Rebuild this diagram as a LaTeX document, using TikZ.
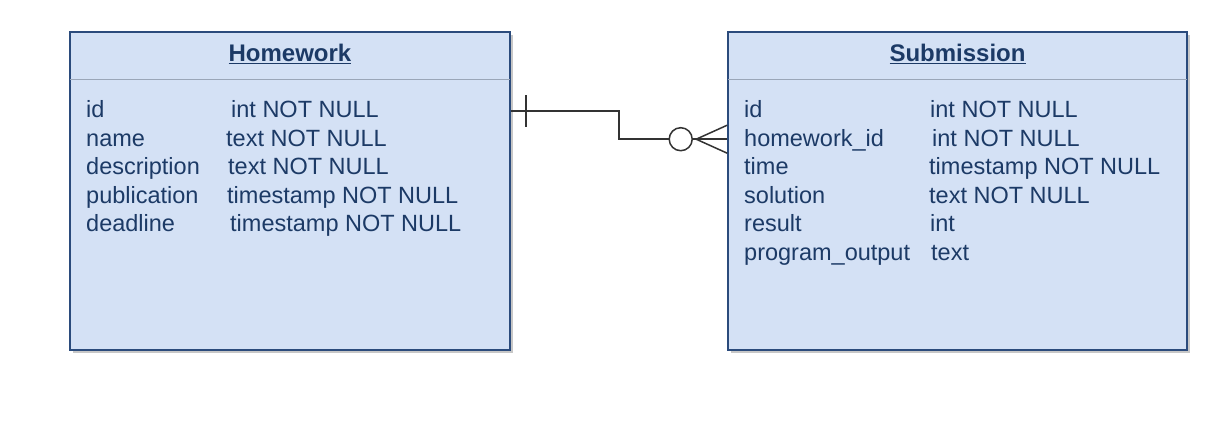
\documentclass[tikz,border=0pt]{standalone}
\usepackage{fontspec}
\setmainfont{Liberation Sans}
\usetikzlibrary{calc}
\definecolor{boxfill}{HTML}{D4E1F5}
\definecolor{boxline}{HTML}{2B4B7C}
\definecolor{txt}{HTML}{1C3A66}
\definecolor{divline}{HTML}{9AA6B8}
\definecolor{connline}{HTML}{333333}
\begin{document}
\begin{tikzpicture}[x=1pt,y=-1pt,
  font=\fontsize{23.5}{28.5}\selectfont,
  tbl/.style={draw=boxline, fill=boxfill, line width=1.6pt, inner sep=0pt, rectangle},
  shadowbox/.style={fill=black!22},
  divider/.style={draw=divline, line width=1.2pt},
  ttl/.style={anchor=base, text=txt, font=\fontsize{24}{28}\selectfont\bfseries, inner sep=0pt},
  fld/.style={anchor=base west, text=txt, inner sep=0pt},
  conn/.style={draw=connline, line width=1.5pt}]
\useasboundingbox (0,0) rectangle (1212,436);
\fill[white] (0,0) rectangle (1212,436);
% shadows
\fill[shadowbox] (73,35) rectangle (513,353);
\fill[shadowbox] (731,35) rectangle (1190,353);
% boxes
\node[tbl, minimum width=440pt, minimum height=318pt] (hw) at (290,191) {};
\node[tbl, minimum width=459pt, minimum height=318pt] (sub) at (957.5,191) {};
\draw[divider] ($(hw.north west)+(1,48)$) -- ($(hw.north east)+(-1,48)$);
\draw[divider] ($(sub.north west)+(1,48)$) -- ($(sub.north east)+(-1,48)$);
% titles
\node[ttl] (hwt) at (290,62) {\underline{Homework}};
\node[ttl] (subt) at (957.5,62) {\underline{Submission}};
% Homework fields
\node[fld] (h1) at (86,117.5) {id};
\node[fld] (h2) at (86,146) {name};
\node[fld] (h3) at (86,174.5) {description};
\node[fld] (h4) at (86,203) {publication};
\node[fld] (h5) at (86,231.5) {deadline};
\node[fld] (h1t) at (231,117.5) {int NOT NULL};
\node[fld] (h2t) at (226,146) {text NOT NULL};
\node[fld] (h3t) at (228,174.5) {text NOT NULL};
\node[fld] (h4t) at (227,203) {timestamp NOT NULL};
\node[fld] (h5t) at (230,231.5) {timestamp NOT NULL};
% Submission fields
\node[fld] (s1) at (744,117.5) {id};
\node[fld] (s2) at (744,146) {homework\_id};
\node[fld] (s3) at (744,174.5) {time};
\node[fld] (s4) at (744,203) {solution};
\node[fld] (s5) at (744,231.5) {result};
\node[fld] (s6) at (744,260) {program\_output};
\node[fld] (s1t) at (930,117.5) {int NOT NULL};
\node[fld] (s2t) at (932,146) {int NOT NULL};
\node[fld] (s3t) at (929,174.5) {timestamp NOT NULL};
\node[fld] (s4t) at (929,203) {text NOT NULL};
\node[fld] (s5t) at (930,231.5) {int};
\node[fld] (s6t) at (931,260) {text};
% connector
\coordinate (ca) at ($(hw.north east)+(0,80)$);
\coordinate (cb) at ($(sub.north west)+(0,108)$);
\coordinate (cc) at ($(cb)+(-46.5,0)$);
\coordinate (cf) at ($(cb)+(-31,0)$);
\draw[conn] (ca) -- ++(108,0) |- ($(cc)+(-11.5,0)$);
\draw[conn] ($(ca)+(15,-16)$) -- ($(ca)+(15,16)$);
\draw[conn] (cc) circle[radius=11.5];
\draw[conn] ($(cc)+(11.5,0)$) -- (cb);
\draw[conn] (cf) -- ($(cb)+(0,-14)$);
\draw[conn] (cf) -- ($(cb)+(0,14)$);
\end{tikzpicture}
\end{document}
